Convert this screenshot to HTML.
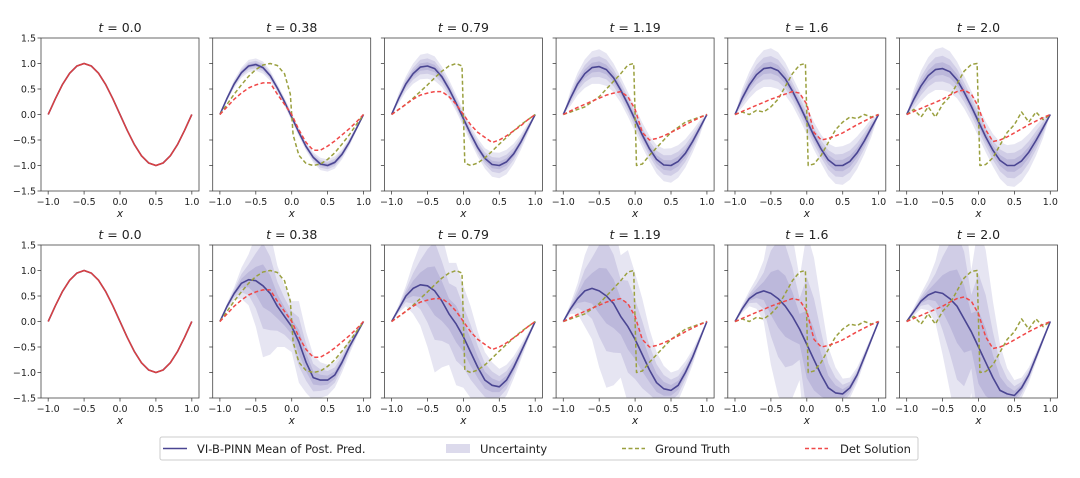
<!DOCTYPE html>
<html><head><meta charset="utf-8">
<style>
body{margin:0;background:#fff;width:1080px;height:473px;overflow:hidden;font-family:"Liberation Sans","DejaVu Sans",sans-serif}
svg text{font-family:"DejaVu Sans","Liberation Sans",sans-serif;fill:#222}
</style></head><body>
<svg id="chart" width="1080" height="473" viewBox="0 0 1080 473" xmlns="http://www.w3.org/2000/svg">
<defs id="defs"></defs>
<g id="panels"></g>
<g id="legend">
  <rect x="160" y="437" width="758" height="23" rx="2" fill="#fff" stroke="#ccc" stroke-width="1"/>
  <g>
    <line x1="163" y1="448.5" x2="187" y2="448.5" stroke="#4a4592" stroke-width="1.6"/>
    <text x="197" y="453" font-size="11.5">VI-B-PINN Mean of Post. Pred.</text>
  </g>
  <g>
    <rect x="446" y="444" width="24" height="9" fill="#dcdaec"/>
    <text x="480" y="453" font-size="11.5">Uncertainty</text>
  </g>
  <g>
    <line x1="622" y1="448.5" x2="645" y2="448.5" stroke="#9aa03f" stroke-width="1.5" stroke-dasharray="4,2.5"/>
    <text x="655" y="453" font-size="11.5">Ground Truth</text>
  </g>
  <g>
    <line x1="805" y1="448.5" x2="828" y2="448.5" stroke="#f04848" stroke-width="1.5" stroke-dasharray="4,2.5"/>
    <text x="840" y="453" font-size="11.5">Det Solution</text>
  </g>
</g>
</svg>
<script>
const xs=[-1,-0.9,-0.8,-0.7,-0.6,-0.5,-0.4,-0.3,-0.2,-0.1,0,0.1,0.2,0.3,0.4,0.5,0.6,0.7,0.8,0.9,1];
const gtXs=[-1,-0.9,-0.8,-0.7,-0.6,-0.5,-0.4,-0.3,-0.2,-0.1,-0.02,0,0.02,0.1,0.2,0.3,0.4,0.5,0.6,0.7,0.8,0.9,1];
const times=["0.0","0.38","0.79","1.19","1.6","2.0"];
const initial=[0,0.31,0.59,0.81,0.95,1,0.95,0.81,0.59,0.31,0,-0.31,-0.59,-0.81,-0.95,-1,-0.95,-0.81,-0.59,-0.31,0];
const groundTruth=[
 [0,0.31,0.59,0.81,0.95,1,0.95,0.81,0.59,0.31,0.06,0,-0.06,-0.31,-0.59,-0.81,-0.95,-1,-0.95,-0.81,-0.59,-0.31,0],
 [0,0.2,0.4,0.58,0.75,0.88,0.97,1.0,0.96,0.8,0.4,0,-0.4,-0.8,-0.96,-1,-0.97,-0.88,-0.75,-0.58,-0.4,-0.2,0],
 [0,0.1,0.2,0.32,0.45,0.58,0.72,0.85,0.95,1.0,0.95,0,-0.95,-1,-0.95,-0.85,-0.72,-0.58,-0.45,-0.32,-0.2,-0.1,0],
 [0,0.05,0.1,0.15,0.25,0.35,0.5,0.65,0.8,0.97,1.0,0,-1.0,-0.97,-0.8,-0.65,-0.5,-0.35,-0.25,-0.15,-0.1,-0.05,0],
 [0,0.05,0,0.08,0.05,0.15,0.3,0.55,0.8,0.97,1.0,0,-1.0,-0.97,-0.8,-0.55,-0.3,-0.15,-0.05,-0.08,0,-0.05,0],
 [0,0.1,-0.05,0.15,-0.05,0.2,0.35,0.6,0.85,0.98,1.0,0,-1.0,-0.98,-0.85,-0.6,-0.35,-0.2,0.05,-0.15,0.05,-0.1,0]
];
const detSolution=[
 initial,
 [0,0.15,0.3,0.42,0.52,0.58,0.62,0.62,0.4,0.2,0,-0.3,-0.55,-0.7,-0.7,-0.62,-0.52,-0.4,-0.28,-0.15,0],
 [0,0.1,0.2,0.3,0.38,0.42,0.45,0.45,0.35,0.2,0,-0.2,-0.35,-0.45,-0.55,-0.5,-0.42,-0.32,-0.22,-0.1,0],
 [0,0.07,0.14,0.2,0.26,0.32,0.38,0.42,0.45,0.35,0.1,-0.35,-0.5,-0.47,-0.42,-0.35,-0.28,-0.2,-0.13,-0.06,0],
 [0,0.06,0.12,0.18,0.24,0.3,0.35,0.4,0.45,0.42,0.2,-0.35,-0.5,-0.47,-0.42,-0.36,-0.28,-0.2,-0.13,-0.06,0],
 [0,0.06,0.12,0.18,0.24,0.3,0.38,0.45,0.48,0.4,0.15,-0.3,-0.53,-0.5,-0.44,-0.36,-0.28,-0.2,-0.13,-0.06,0]
];
const meanTop=[
 initial,
 [0,0.32,0.6,0.82,0.95,0.98,0.92,0.76,0.52,0.25,-0.05,-0.35,-0.63,-0.84,-0.97,-1.0,-0.94,-0.78,-0.55,-0.28,0],
 [0,0.32,0.6,0.8,0.93,0.95,0.9,0.74,0.5,0.22,-0.08,-0.38,-0.65,-0.86,-0.98,-1.0,-0.93,-0.77,-0.54,-0.27,0],
 [0,0.32,0.6,0.8,0.92,0.94,0.88,0.72,0.48,0.2,-0.1,-0.4,-0.67,-0.88,-0.99,-1.0,-0.92,-0.76,-0.53,-0.27,0],
 [0,0.32,0.58,0.78,0.9,0.92,0.86,0.7,0.46,0.18,-0.12,-0.42,-0.68,-0.89,-1.0,-1.0,-0.92,-0.75,-0.52,-0.26,0],
 [0,0.3,0.56,0.76,0.88,0.9,0.84,0.68,0.44,0.16,-0.14,-0.44,-0.7,-0.9,-1.0,-1.0,-0.91,-0.74,-0.51,-0.26,0]
];
const uncTop=[
 [0,0,0,0,0,0,0,0,0,0,0,0,0,0,0,0,0,0,0,0,0],
 [0,0.05,0.08,0.1,0.12,0.12,0.12,0.1,0.08,0.08,0.08,0.08,0.08,0.1,0.12,0.12,0.12,0.1,0.08,0.05,0],
 [0,0.1,0.15,0.2,0.24,0.25,0.24,0.2,0.18,0.16,0.16,0.16,0.18,0.2,0.24,0.25,0.24,0.2,0.15,0.1,0],
 [0,0.15,0.22,0.28,0.32,0.34,0.32,0.28,0.25,0.24,0.24,0.24,0.25,0.28,0.32,0.34,0.32,0.28,0.22,0.15,0],
 [0,0.18,0.26,0.32,0.36,0.38,0.36,0.32,0.28,0.27,0.27,0.27,0.28,0.32,0.36,0.38,0.36,0.32,0.26,0.18,0],
 [0,0.2,0.3,0.36,0.4,0.42,0.4,0.36,0.32,0.3,0.3,0.3,0.32,0.36,0.4,0.42,0.4,0.36,0.3,0.2,0]
];
const meanBottom=[
 initial,
 [0,0.3,0.55,0.75,0.82,0.8,0.7,0.55,0.3,0.1,-0.1,-0.4,-0.8,-1.1,-1.15,-1.15,-1.05,-0.8,-0.5,-0.25,0],
 [0,0.25,0.5,0.65,0.72,0.7,0.6,0.4,0.15,-0.05,-0.3,-0.6,-0.9,-1.15,-1.25,-1.28,-1.15,-0.9,-0.6,-0.3,0],
 [0,0.25,0.45,0.6,0.65,0.6,0.5,0.35,0.1,-0.1,-0.35,-0.65,-0.95,-1.2,-1.32,-1.35,-1.25,-1.0,-0.7,-0.35,0],
 [0,0.25,0.45,0.55,0.6,0.55,0.45,0.3,0.1,-0.15,-0.45,-0.75,-1.05,-1.3,-1.4,-1.42,-1.3,-1.05,-0.7,-0.35,0],
 [0,0.2,0.4,0.52,0.58,0.55,0.45,0.3,0.05,-0.2,-0.5,-0.8,-1.1,-1.35,-1.42,-1.45,-1.3,-1.05,-0.7,-0.35,0]
];
const uncBottom=[
 [0,0,0,0,0,0,0,0,0,0,0,0,0,0,0,0,0,0,0,0,0],
 [0.02,0.06,0.12,0.3,0.5,0.9,1.4,1.2,0.8,0.6,0.5,0.8,0.6,0.45,0.35,0.3,0.25,0.2,0.15,0.08,0.02],
 [0.02,0.08,0.2,0.5,0.8,1.2,1.6,1.3,1.0,1.2,1.0,0.9,0.7,0.55,0.45,0.35,0.3,0.22,0.15,0.08,0.02],
 [0.02,0.1,0.3,0.7,1.0,1.5,1.8,1.6,1.2,1.5,1.3,1.1,0.8,0.6,0.45,0.35,0.3,0.22,0.15,0.08,0.02],
 [0.02,0.08,0.15,0.3,0.6,1.4,1.9,2.0,1.6,1.0,2.2,2.0,1.4,0.8,0.5,0.3,0.2,0.15,0.1,0.06,0.02],
 [0.02,0.08,0.15,0.3,0.6,1.2,1.8,2.4,2.2,1.2,2.4,2.2,1.5,0.9,0.5,0.3,0.2,0.15,0.1,0.06,0.02]
];
const yTicks=[1.5,1.0,0.5,0.0,-0.5,-1.0,-1.5];
const xTicks=[-1.0,-0.5,0.0,0.5,1.0];

const NS="http://www.w3.org/2000/svg";
const panels=document.getElementById('panels');
const defs=document.getElementById('defs');
function mk(tag,attrs,parent){const e=document.createElementNS(NS,tag);for(const k in attrs)e.setAttribute(k,attrs[k]);if(parent)parent.appendChild(e);return e;}
const W=158;
const rowTops=[38,245], H=153;
function fmt(v){return (v<0?'\u2212':'')+Math.abs(v).toFixed(1);}

for(let r=0;r<2;r++){
 for(let p=0;p<6;p++){
  const L=41+p*171.7, T=rowTops[r];
  const sx=x=>L+(x+1.1)/2.2*W;
  const sy=y=>T+(1.5-y)/3*H;
  const g=mk('g',{},panels);
  
  
  const cid='clip'+r+'_'+p;
  const cp=mk('clipPath',{id:cid},defs);
  mk('rect',{x:L,y:T,width:W,height:H},cp);
  const plot=mk('g',{'clip-path':'url(#'+cid+')'},g);
  const mean=r===0?meanTop[p]:meanBottom[p];
  const unc=r===0?uncTop[p]:uncBottom[p];
  if(p>0){
   [[1.0,0.22],[0.6,0.25],[0.3,0.3]].forEach((f,k)=>{
    let d='';
    xs.forEach((x,i)=>{d+=(i?'L':'M')+sx(x).toFixed(1)+','+sy(mean[i]+unc[i]*f[0]).toFixed(1);});
    for(let i=xs.length-1;i>=0;i--)d+='L'+sx(xs[i]).toFixed(1)+','+sy(mean[i]-unc[i]*f[0]).toFixed(1);
    const band=mk('path',{d:d+'Z',fill:'#8f89c2','fill-opacity':f[1]},plot);
    
    
   });
  }
  const line=(X,arr,color,dash,w)=>{
   let d='';X.forEach((x,i)=>{d+=(i?'L':'M')+sx(x).toFixed(1)+','+sy(arr[i]).toFixed(1);});
   const e=mk('path',{d:d,fill:'none',stroke:color,'stroke-width':w,'stroke-linejoin':'round'},plot);
   if(dash)e.setAttribute('stroke-dasharray',dash);
   return e;
  };
  const m=line(xs,mean,'#4a4592',null,1.6);
  
  
  const gt=line(gtXs,groundTruth[p],'#9aa03f','4,2.5',1.5);
  if(p===0)gt.setAttribute('stroke-opacity','0');
  
  
  const dt=line(xs,detSolution[p],p===0?'#d94040':'#f04848',p===0?null:'4,2.5',1.5);
  
  
  const box=mk('rect',{x:L,y:T,width:W,height:H,fill:'none',stroke:'#444','stroke-width':0.8},g);
  
  
  yTicks.forEach(v=>{
   mk('line',{x1:L-3.5,x2:L,y1:sy(v),y2:sy(v),stroke:'#444','stroke-width':0.8},g);
   if(p===0){const t=mk('text',{x:L-5,y:sy(v)+3.5,'font-size':9.5,'text-anchor':'end'},g);t.textContent=fmt(v);
    }
  });
  xTicks.forEach(v=>{
   mk('line',{x1:sx(v),x2:sx(v),y1:T+H,y2:T+H+3.5,stroke:'#444','stroke-width':0.8},g);
   const t=mk('text',{x:sx(v),y:T+H+14,'font-size':9.5,'text-anchor':'middle'},g);t.textContent=fmt(v);
   
  });
  const xl=mk('text',{x:L+W/2,y:T+H+26,'font-size':10.5,'text-anchor':'middle','font-style':'italic'},g);
  xl.textContent='x';
  
  const tt=mk('text',{x:L+W/2,y:T-6,'font-size':12.5,'text-anchor':'middle'},g);
  tt.innerHTML='<tspan font-style="italic">t</tspan> = '+times[p];
  
 }
}
</script>
</body></html>
